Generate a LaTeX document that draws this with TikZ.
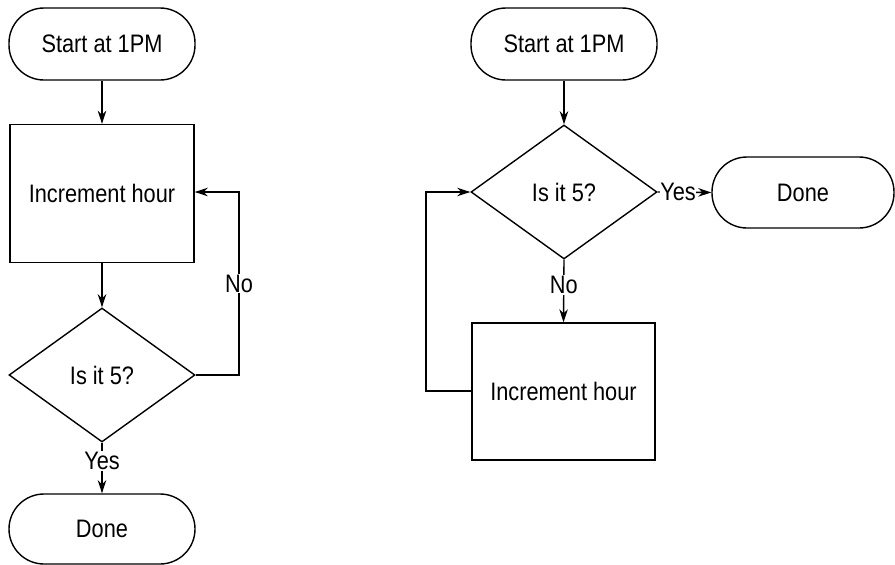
\documentclass[tikz,border=0pt]{standalone}
\usepackage{fontspec}
\setmainfont{Liberation Sans}[FakeStretch=0.86]
\usetikzlibrary{shapes.geometric,arrows.meta}
\begin{document}
\begin{tikzpicture}[x=1pt,y=-1pt,
  line width=1.4pt,
  every node/.style={font=\fontsize{25.3}{29}\selectfont},
  term/.style={draw, rectangle, rounded corners=35pt, minimum width=186pt, minimum height=72pt, inner sep=0pt},
  procbox/.style={draw, rectangle, minimum width=184pt, minimum height=138pt, inner sep=0pt},
  decis/.style={draw, diamond, minimum width=186pt, minimum height=134pt, inner sep=0pt},
  lbl/.style={fill=white, inner sep=1pt},
  arr/.style={-{Stealth[length=13pt,width=8.5pt,inset=4pt]}}
]
\useasboundingbox (0,0) rectangle (895,565);
% left flowchart
\node[term] (ls) at (102,44) {Start at 1PM};
\node[procbox] (lb) at (102,193.5) {Increment hour};
\node[decis] (ld) at (102,375) {Is it 5?};
\node[term, minimum height=70pt] (le) at (102,529) {Done};
\coordinate (lc1) at (239,375);
\coordinate (lc2) at (239,192);
\draw[arr] (ls) -- (lb);
\draw[arr] (lb) -- (ld);
\draw[arr] (ld.south) -- node[lbl, pos=0.36] {Yes} (le.north);
\draw[arr] (ld.east) -- (lc1) -- node[lbl, pos=0.5] {No} (lc2) -- (lb.east |- lc2);
% right flowchart
\node[term] (rs) at (564,44) {Start at 1PM};
\node[decis] (rd) at (564,192) {Is it 5?};
\node[term, minimum width=182pt, minimum height=71pt] (re) at (803,192.5) {Done};
\node[procbox, minimum width=183pt, minimum height=137pt] (rb) at (563.5,391.5) {Increment hour};
\coordinate (rc1) at (426,391);
\coordinate (rc2) at (426,192);
\draw[arr] (rs) -- (rd);
\draw[arr] (rd.east) -- node[lbl, inner sep=0pt, pos=0.38] {Yes} (re.west);
\draw[arr] (rd.south) -- node[lbl, pos=0.4] {No} (rb.north);
\draw[arr] (rb.west |- rc1) -- (rc1) -- (rc2) -- (rd.west);
\end{tikzpicture}
\end{document}
